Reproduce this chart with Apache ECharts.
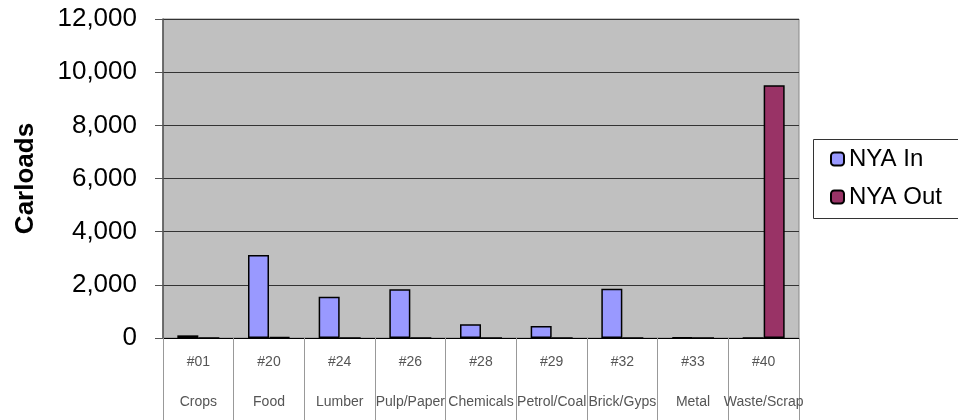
<!DOCTYPE html>
<html>
<head>
<meta charset="utf-8">
<script src="https://cdn.jsdelivr.net/npm/echarts@6/dist/echarts.min.js"></script>
<style>html,body{margin:0;padding:0;background:#fff;}#c{width:958px;height:420px;}</style>
</head>
<body>
<div id="c"></div>
<script>
var codes = ['#01','#20','#24','#26','#28','#29','#32','#33','#40'];
var names = ['Crops','Food','Lumber','Pulp/Paper','Chemicals','Petrol/Coal','Brick/Gyps','Metal','Waste/Scrap'];
var nyaIn = [100, 3120, 1550, 1830, 515, 450, 1850, 20, 0];
var nyaOut = [0, 30, 0, 0, 0, 0, 0, 0, 9510];
var yTicks = [0, 2000, 4000, 6000, 8000, 10000, 12000];

var categories = codes.map(function(c, i){ return c + '\n' + names[i]; });

var chart = echarts.init(document.getElementById('c'), null, {renderer: 'canvas'});
chart.setOption({
  animation: false,
  textStyle: {fontFamily: 'Liberation Sans, Arial, sans-serif'},
  grid: {left: 163, right: 159, top: 19, bottom: 82, containLabel: false, outerBoundsMode: 'none',
         show: true, backgroundColor: '#C0C0C0', borderColor: '#888', borderWidth: 1},
  legend: {
    orient: 'vertical', left: 830, top: 147, padding: 0,
    itemWidth: 13, itemHeight: 13, itemGap: 14,
    textStyle: {fontSize: 24, color: '#000', fontFamily: 'Liberation Sans, Arial, sans-serif'},
    data: ['NYA In', 'NYA Out']
  },
  graphic: [{type: 'rect', shape: {x: 813.5, y: 139.5, width: 200, height: 79}, style: {fill: 'none', stroke: '#333', lineWidth: 1}}],
  xAxis: {
    type: 'category', data: categories,
    axisLine: {show: true, lineStyle: {color: '#000', width: 1}},
    axisTick: {show: true, length: 82, alignWithLabel: false, lineStyle: {color: '#999', width: 1}},
    axisLabel: {interval: 0, margin: 4, fontSize: 14, lineHeight: 40, color: '#555', fontFamily: 'Liberation Sans, Arial, sans-serif'}
  },
  yAxis: {
    type: 'value', min: yTicks[0], max: yTicks[yTicks.length-1], interval: 2000,
    name: 'Carloads', nameLocation: 'middle', nameRotate: 90, nameGap: 124,
    nameTextStyle: {fontSize: 26, fontWeight: 'bold', color: '#000', fontFamily: 'Liberation Sans, Arial, sans-serif'},
    axisLine: {show: true, lineStyle: {color: '#555', width: 1.5}},
    axisTick: {show: true, length: 8, lineStyle: {color: '#555'}},
    axisLabel: {fontSize: 26, color: '#000', margin: 26, fontFamily: 'Liberation Sans, Arial, sans-serif',
      formatter: function(v){ return v.toLocaleString('en-US'); }},
    splitLine: {show: true, lineStyle: {color: '#333', width: 1}}
  },
  series: [
    {name: 'NYA In', type: 'bar', data: nyaIn, barWidth: 21, barGap: '0%',
     itemStyle: {color: '#9999FF', borderColor: '#000', borderWidth: 1.5}},
    {name: 'NYA Out', type: 'bar', data: nyaOut, barWidth: 21, barGap: '0%',
     itemStyle: {color: '#993366', borderColor: '#000', borderWidth: 1.5}}
  ]
});
</script>
</body>
</html>
